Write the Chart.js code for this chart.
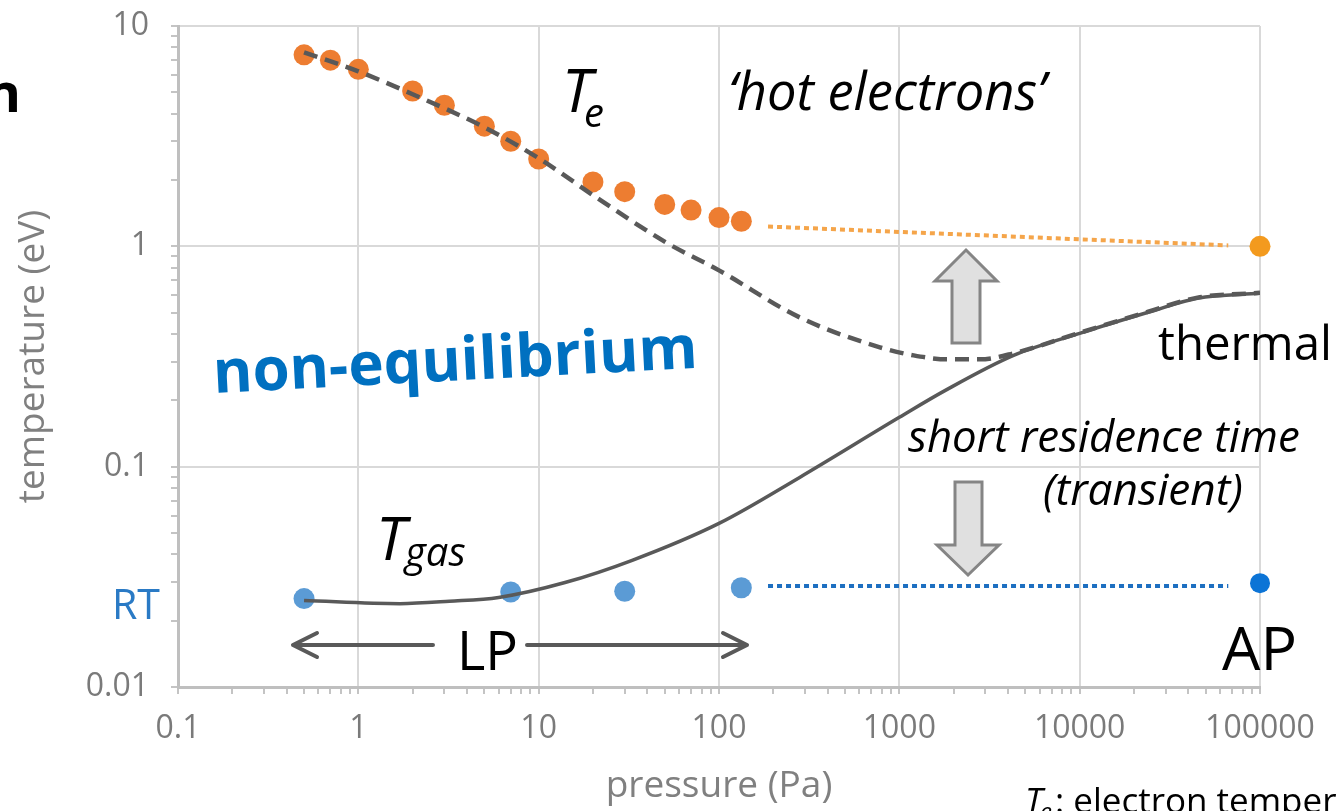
<!DOCTYPE html>
<html>
<head>
<meta charset="utf-8">
<script src="https://cdn.jsdelivr.net/npm/chart.js@4/dist/chart.umd.min.js"></script>
<style>
    html, body { margin: 0; padding: 0; background: #fff; }
    canvas { display: block; }
</style>
</head>
<body>
<canvas id="grafico" width="1336" height="811"></canvas>
<script>
// medidas (temperatura de elétrons e do gás vs pressão)
const pressaoTe = [0.5, 0.7, 1, 2, 3, 5, 7, 10, 20, 30, 50, 70, 100, 133];
const valoresTe = [7.4, 7.0, 6.36, 5.07, 4.37, 3.51, 3.0, 2.49, 1.96, 1.77, 1.55, 1.46, 1.35, 1.30];
const pressaoTeAP = [100000];
const valoresTeAP = [1.0];
const pressaoTgas = [0.5, 7, 30, 133];
const valoresTgas = [0.0252, 0.0270, 0.0272, 0.0282];
const pressaoTgasAP = [100000];
const valoresTgasAP = [0.0296];

// linhas pontilhadas entre LP e AP
const pressaoPonte = [187, 66700];
const valoresPonteTe = [1.23, 1.01];
const valoresPonteTgas = [0.0287, 0.0287];

// curvas de modelo
const pressaoModeloTe = [0.5, 1, 2, 5, 10, 22, 51, 100, 280, 780, 1200, 1840, 2800, 4300, 10000, 24000, 45000, 100000];
const modeloTe = [7.6, 6.23, 4.9, 3.47, 2.51, 1.62, 1.04, 0.778, 0.476, 0.348, 0.320, 0.307, 0.307, 0.327, 0.405, 0.505, 0.585, 0.615];
const pressaoModeloTgas = [0.5, 1.7, 3.2, 6, 14, 33, 100, 280, 1000, 1800, 4300, 10000, 24000, 45000, 100000];
const modeloTgas = [0.0247, 0.0239, 0.0245, 0.0255, 0.0298, 0.0376, 0.0553, 0.0894, 0.1675, 0.222, 0.320, 0.403, 0.502, 0.581, 0.612];

const rotulosX = ['0.1', '1', '10', '100', '1000', '10000', '100000'];
const rotulosY = ['0.01', '0.1', '1', '10'];

const FONTE = '"Open Sans", "Noto Sans", sans-serif';

function pares(xs, ys) {
    return xs.map((x, i) => ({ x: x, y: ys[i] }));
}

function ehDecada(v) {
    const l = Math.log10(v);
    return Math.abs(l - Math.round(l)) < 1e-9;
}

function rotuloPara(lista, v) {
    const r = lista.find(t => Math.abs(Math.log10(Number(t)) - Math.log10(v)) < 1e-6);
    return r || '';
}

function ticksLog(scale) {
    const lista = [];
    const e0 = Math.round(Math.log10(scale.min));
    const e1 = Math.round(Math.log10(scale.max));
    for (let e = e0; e < e1; e++) {
        for (let m = 1; m < 10; m++) {
            lista.push({ value: m * Math.pow(10, e) });
        }
    }
    lista.push({ value: scale.max });
    scale.ticks = lista;
}

function eixo(rotulos, titulo, extra) {
    return Object.assign({
        type: 'logarithmic',
        afterBuildTicks: ticksLog,
        border: { color: '#bfbfbf', width: 3 },
        grid: {
            color: ctx => (ctx.tick && ehDecada(ctx.tick.value)) ? '#d9d9d9' : 'rgba(0,0,0,0)',
            lineWidth: 2,
            tickColor: '#c4c4c4',
            tickWidth: 2,
            tickLength: 7
        },
        ticks: {
            autoSkip: false,
            maxRotation: 0,
            color: '#7a7a7a',
            font: { family: FONTE, size: 32 },
            callback: v => ehDecada(v) ? rotuloPara(rotulos, v) : ''
        },
        title: {
            display: true,
            text: titulo,
            color: '#808080',
            font: { family: FONTE, size: 37 }
        }
    }, extra);
}

function ajustar(c, texto, estilo, largura) {
    c.font = estilo + ' 100px ' + FONTE;
    const w = c.measureText(texto).width;
    return 100 * largura / w;
}

function escrever(c, texto, x, y, estilo, largura, cor) {
    const tam = ajustar(c, texto, estilo, largura);
    c.font = estilo + ' ' + tam + 'px ' + FONTE;
    c.fillStyle = cor || '#000';
    c.fillText(texto, x, y);
}

function setaBloco(c, pts) {
    c.beginPath();
    pts.forEach((p, i) => i ? c.lineTo(p[0], p[1]) : c.moveTo(p[0], p[1]));
    c.closePath();
    c.fillStyle = '#e0e0e0';
    c.fill();
    c.strokeStyle = '#858585';
    c.lineWidth = 3;
    c.lineJoin = 'miter';
    c.stroke();
}

function setaLinha(c, x0, x1, y) {
    const d = x1 > x0 ? -1 : 1;
    c.beginPath();
    c.moveTo(x0, y);
    c.lineTo(x1, y);
    c.moveTo(x1 + d * 24, y - 12);
    c.lineTo(x1, y);
    c.lineTo(x1 + d * 24, y + 12);
    c.stroke();
}

const anotacoes = {
    id: 'anotacoes',
    afterDraw(chart) {
        const c = chart.ctx;
        c.save();
        c.textBaseline = 'alphabetic';
        c.textAlign = 'left';

        // pedaço do título cortado à esquerda
        c.font = 'bold 54px ' + FONTE;
        c.fillStyle = '#000';
        c.textAlign = 'right';
        c.fillText('n', 21, 112);
        c.textAlign = 'left';

        // T_e
        c.font = 'italic 60px ' + FONTE;
        c.fillText('T', 562, 112);
        c.font = 'italic 40px ' + FONTE;
        c.fillText('e', 584, 127);

        escrever(c, '\u2018hot electrons\u2019', 728, 110, 'italic', 318);
        escrever(c, 'thermal', 1158, 360, 'normal', 174);
        escrever(c, 'short residence time', 908, 452, 'italic', 392);
        escrever(c, '(transient)', 1043, 505, 'italic', 200);

        // T_gas
        c.font = 'italic 60px ' + FONTE;
        c.fillStyle = '#000';
        c.fillText('T', 376, 560);
        c.font = 'italic 40px ' + FONTE;
        c.fillText('gas', 405, 566);

        escrever(c, 'RT', 112, 619, 'normal', 48, '#2a7ac5');
        escrever(c, 'LP', 457, 670, 'normal', 61);
        escrever(c, 'AP', 1222, 670, 'normal', 75);

        // não-equilíbrio, levemente inclinado
        c.save();
        c.translate(214, 393);
        c.rotate(-0.052);
        escrever(c, 'non-equilibrium', 0, 0, 'bold', 485, '#0070c0');
        c.restore();

        // setas de bloco
        setaBloco(c, [[966, 250], [997, 281], [980, 281], [980, 343], [952, 343], [952, 281], [935, 281]]);
        setaBloco(c, [[955, 482], [982, 482], [982, 545], [999, 545], [968, 575], [937, 545], [955, 545]]);

        // setas LP
        c.strokeStyle = '#595959';
        c.lineWidth = 4;
        c.lineCap = 'round';
        c.lineJoin = 'round';
        setaLinha(c, 433, 293, 645);
        setaLinha(c, 527, 747, 645);

        // nota de rodapé
        c.fillStyle = '#000';
        c.font = 'italic 35px ' + FONTE;
        c.fillText('T', 1025, 813);
        c.font = 'italic 24px ' + FONTE;
        c.fillText('e', 1040, 820);
        c.font = '35px ' + FONTE;
        c.fillText(': electron temperature', 1055, 813);

        c.restore();
    }
};

const ctx = document.getElementById('grafico').getContext('2d');

const grafico = new Chart(ctx, {
    type: 'scatter',
    data: {
        datasets: [
            {
                label: 'Te modelo',
                data: pares(pressaoModeloTe, modeloTe),
                showLine: true,
                borderColor: '#595959',
                borderWidth: 4.5,
                borderDash: [14, 8],
                pointRadius: 0,
                cubicInterpolationMode: 'monotone',
                order: 1
            },
            {
                label: 'Tgas modelo',
                data: pares(pressaoModeloTgas, modeloTgas),
                showLine: true,
                borderColor: '#595959',
                borderWidth: 3.5,
                pointRadius: 0,
                cubicInterpolationMode: 'monotone',
                order: 1
            },
            {
                label: 'Te ponte',
                data: pares(pressaoPonte, valoresPonteTe),
                showLine: true,
                borderColor: '#f5a54a',
                borderWidth: 4,
                borderDash: [5, 4],
                pointRadius: 0,
                order: 2
            },
            {
                label: 'Tgas ponte',
                data: pares(pressaoPonte, valoresPonteTgas),
                showLine: true,
                borderColor: '#1d6fc1',
                borderWidth: 4,
                borderDash: [5, 4],
                pointRadius: 0,
                order: 2
            },
            {
                label: 'Te',
                data: pares(pressaoTe, valoresTe),
                backgroundColor: '#ed7d31',
                borderWidth: 0,
                pointRadius: 10.5,
                clip: false,
                order: 3
            },
            {
                label: 'Te AP',
                data: pares(pressaoTeAP, valoresTeAP),
                backgroundColor: '#f39a1e',
                borderWidth: 0,
                pointRadius: 10.5,
                clip: false,
                order: 3
            },
            {
                label: 'Tgas',
                data: pares(pressaoTgas, valoresTgas),
                backgroundColor: '#5b9bd5',
                borderWidth: 0,
                pointRadius: 10.5,
                clip: false,
                order: 3
            },
            {
                label: 'Tgas AP',
                data: pares(pressaoTgasAP, valoresTgasAP),
                backgroundColor: '#0c74d6',
                borderWidth: 0,
                pointRadius: 10,
                clip: false,
                order: 3
            }
        ]
    },
    options: {
        responsive: false,
        devicePixelRatio: 1,
        animation: false,
        layout: { padding: { left: 0, right: 76, top: 26, bottom: 0 } },
        plugins: {
            legend: { display: false },
            tooltip: { enabled: false }
        },
        scales: {
            x: eixo(rotulosX, 'pressure (Pa)', {
                min: 0.1,
                max: 100000,
                afterFit: s => {
                    s.height = 124;
                    s.paddingLeft = 0;
                    s.paddingRight = 0;
                }
            }),
            y: eixo(rotulosY, 'temperature (eV)', {
                min: 0.01,
                max: 10,
                afterFit: s => {
                    s.width = 178;
                    s.paddingTop = 0;
                    s.paddingBottom = 0;
                }
            })
        }
    },
    plugins: [anotacoes]
});

grafico.options.scales.x.ticks.padding = 16;
grafico.options.scales.y.ticks.padding = 22;
grafico.options.scales.x.title.padding = { top: 0, bottom: 2 };
grafico.options.scales.y.title.padding = { top: 11, bottom: 0 };
grafico.update();
</script>
</body>
</html>
